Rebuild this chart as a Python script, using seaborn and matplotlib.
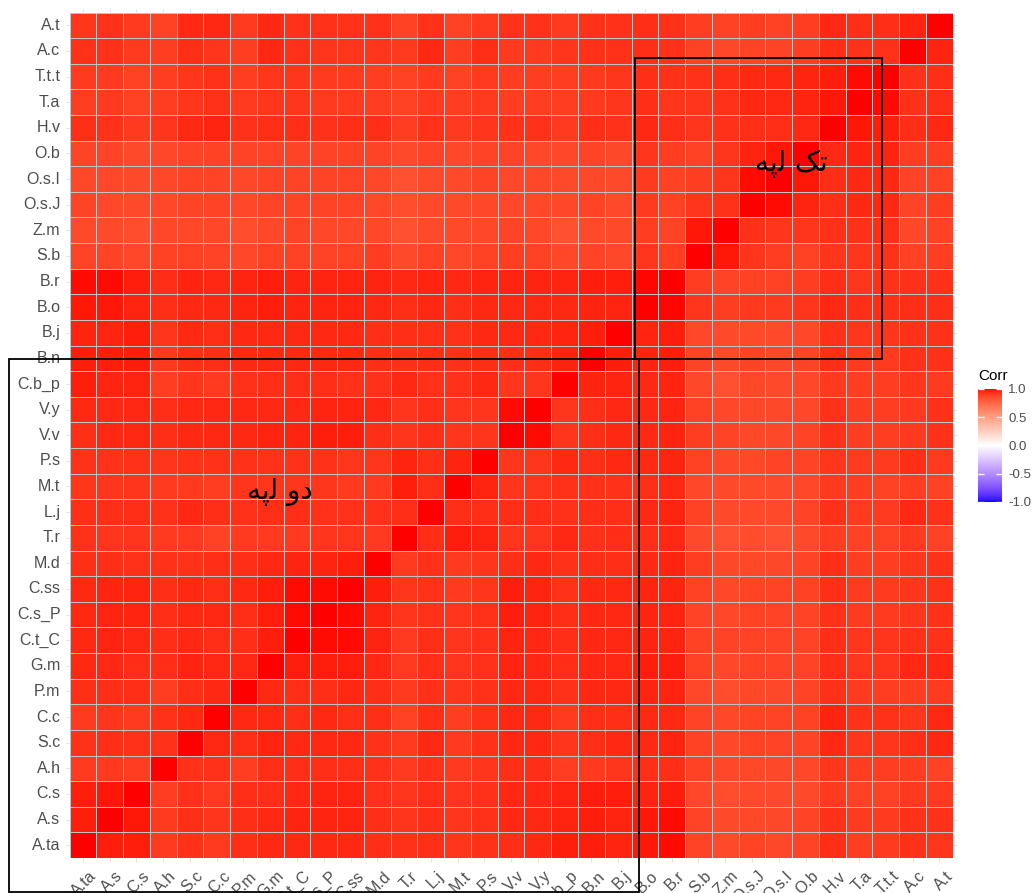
import numpy as np
import pandas as pd
import matplotlib
matplotlib.use("Agg")
import matplotlib.pyplot as plt
import matplotlib.transforms as mtransforms
import seaborn as sns
from matplotlib.colors import ListedColormap
from matplotlib.patches import Rectangle

# ---------------- data (lower triangle, variable order of the x axis) -------------
variables = ["A.ta", "A.s", "C.s", "A.h", "S.c", "C.c", "P.m", "G.m", "C.t_C", "C.s_P",
             "C.ss", "M.d", "T.r", "L.j", "M.t", "P.s", "V.v", "V.y", "C.b_p", "B.n",
             "B.j", "B.o", "B.r", "S.b", "Z.m", "O.s.J", "O.s.I", "O.b", "H.v", "T.a",
             "T.t.t", "A.c", "A.t"]

r_A_ta = [1.0]
r_A_s = [0.97, 1.0]
r_C_s = [0.97, 0.98, 1.0]
r_A_h = [0.91, 0.91, 0.90, 1.0]
r_S_c = [0.93, 0.94, 0.93, 0.93, 1.0]
r_C_c = [0.91, 0.92, 0.91, 0.93, 0.95, 1.0]
r_P_m = [0.94, 0.94, 0.94, 0.90, 0.94, 0.95, 1.0]
r_G_m = [0.95, 0.95, 0.94, 0.94, 0.96, 0.95, 0.95, 1.0]
r_C_t_C = [0.95, 0.96, 0.95, 0.94, 0.95, 0.94, 0.94, 0.97, 1.0]
r_C_s_P = [0.95, 0.96, 0.96, 0.94, 0.95, 0.95, 0.94, 0.97, 0.99, 1.0]
r_C_ss = [0.95, 0.96, 0.96, 0.94, 0.95, 0.94, 0.95, 0.97, 0.99, 0.99, 1.0]
r_M_d = [0.94, 0.94, 0.93, 0.93, 0.93, 0.94, 0.94, 0.95, 0.96, 0.96, 0.97, 1.0]
r_T_r = [0.93, 0.92, 0.92, 0.91, 0.91, 0.89, 0.91, 0.91, 0.91, 0.92, 0.92, 0.91, 1.0]
r_L_j = [0.94, 0.94, 0.94, 0.93, 0.95, 0.94, 0.93, 0.94, 0.94, 0.93, 0.93, 0.93, 0.94, 1.0]
r_M_t = [0.92, 0.92, 0.92, 0.91, 0.91, 0.90, 0.92, 0.92, 0.92, 0.92, 0.91, 0.91, 0.97, 0.94,
         1.0]
r_P_s = [0.93, 0.93, 0.93, 0.92, 0.93, 0.93, 0.93, 0.93, 0.93, 0.93, 0.92, 0.92, 0.96, 0.94,
         0.96, 1.0]
r_V_v = [0.94, 0.95, 0.95, 0.94, 0.95, 0.95, 0.95, 0.96, 0.96, 0.97, 0.97, 0.94, 0.92, 0.94,
         0.92, 0.92, 1.0]
r_V_y = [0.95, 0.95, 0.95, 0.94, 0.95, 0.95, 0.95, 0.95, 0.95, 0.96, 0.96, 0.95, 0.92, 0.94,
         0.92, 0.92, 0.99, 1.0]
r_C_b_p = [0.97, 0.96, 0.96, 0.90, 0.92, 0.91, 0.93, 0.94, 0.94, 0.94, 0.93, 0.93, 0.95, 0.93,
           0.93, 0.95, 0.92, 0.92, 1.0]
r_B_n = [0.97, 0.97, 0.97, 0.91, 0.94, 0.94, 0.95, 0.95, 0.95, 0.95, 0.95, 0.94, 0.93, 0.94,
         0.93, 0.94, 0.94, 0.94, 0.96, 1.0]
r_B_j = [0.96, 0.96, 0.97, 0.92, 0.95, 0.94, 0.95, 0.95, 0.95, 0.95, 0.95, 0.94, 0.94, 0.94,
         0.93, 0.95, 0.95, 0.95, 0.96, 0.97, 1.0]
r_B_o = [0.98, 0.98, 0.96, 0.94, 0.95, 0.95, 0.96, 0.97, 0.96, 0.96, 0.96, 0.95, 0.94, 0.95,
         0.94, 0.95, 0.95, 0.95, 0.95, 0.96, 0.96, 1.0]
r_B_r = [0.99, 0.99, 0.97, 0.94, 0.96, 0.95, 0.96, 0.97, 0.96, 0.96, 0.96, 0.96, 0.95, 0.96,
         0.95, 0.96, 0.96, 0.96, 0.96, 0.97, 0.97, 0.995, 1.0]
r_S_b = [0.88, 0.88, 0.87, 0.89, 0.89, 0.88, 0.87, 0.89, 0.89, 0.88, 0.89, 0.90, 0.86, 0.89,
         0.87, 0.89, 0.90, 0.89, 0.87, 0.88, 0.87, 0.92, 0.90, 1.0]
r_Z_m = [0.86, 0.86, 0.85, 0.87, 0.87, 0.87, 0.85, 0.87, 0.88, 0.87, 0.87, 0.87, 0.84, 0.86,
         0.86, 0.87, 0.88, 0.87, 0.84, 0.86, 0.86, 0.90, 0.88, 0.98, 1.0]
r_O_s_J = [0.88, 0.87, 0.86, 0.87, 0.88, 0.88, 0.87, 0.88, 0.88, 0.88, 0.88, 0.87, 0.85, 0.86,
           0.86, 0.87, 0.87, 0.87, 0.87, 0.88, 0.86, 0.91, 0.89, 0.92, 0.93, 1.0]
r_O_s_I = [0.87, 0.87, 0.86, 0.87, 0.88, 0.88, 0.87, 0.88, 0.88, 0.88, 0.88, 0.87, 0.84, 0.86,
           0.86, 0.88, 0.87, 0.87, 0.86, 0.87, 0.86, 0.91, 0.89, 0.90, 0.92, 0.99, 1.0]
r_O_b = [0.88, 0.88, 0.86, 0.87, 0.88, 0.89, 0.88, 0.88, 0.88, 0.88, 0.89, 0.88, 0.86, 0.88,
         0.87, 0.88, 0.88, 0.87, 0.87, 0.88, 0.87, 0.92, 0.90, 0.89, 0.92, 0.96, 0.98, 1.0]
r_H_v = [0.94, 0.93, 0.91, 0.92, 0.95, 0.96, 0.93, 0.94, 0.94, 0.93, 0.94, 0.94, 0.90, 0.93,
         0.91, 0.92, 0.93, 0.93, 0.91, 0.94, 0.93, 0.95, 0.94, 0.92, 0.93, 0.94, 0.94, 0.95, 1.0]
r_T_a = [0.90, 0.91, 0.89, 0.90, 0.92, 0.93, 0.91, 0.92, 0.92, 0.91, 0.91, 0.90, 0.89, 0.91,
         0.90, 0.91, 0.90, 0.90, 0.90, 0.91, 0.92, 0.94, 0.92, 0.92, 0.93, 0.95, 0.95, 0.96,
         0.98, 1.0]
r_T_t_t = [0.91, 0.91, 0.89, 0.90, 0.92, 0.93, 0.90, 0.92, 0.92, 0.91, 0.91, 0.90, 0.89, 0.91,
           0.89, 0.91, 0.90, 0.90, 0.90, 0.91, 0.92, 0.94, 0.93, 0.93, 0.94, 0.95, 0.95, 0.96,
           0.97, 0.99, 1.0]
r_A_c = [0.93, 0.93, 0.91, 0.90, 0.94, 0.92, 0.90, 0.95, 0.93, 0.92, 0.92, 0.92, 0.91, 0.95,
         0.90, 0.94, 0.91, 0.91, 0.92, 0.93, 0.93, 0.94, 0.93, 0.89, 0.87, 0.88, 0.88, 0.90,
         0.94, 0.93, 0.93, 1.0]
r_A_t = [0.92, 0.93, 0.91, 0.89, 0.95, 0.95, 0.91, 0.95, 0.93, 0.93, 0.93, 0.93, 0.89, 0.93,
         0.89, 0.91, 0.93, 0.93, 0.91, 0.93, 0.93, 0.94, 0.93, 0.90, 0.89, 0.90, 0.89, 0.90,
         0.95, 0.94, 0.94, 0.96, 1.0]

rows = [r_A_ta, r_A_s, r_C_s, r_A_h, r_S_c, r_C_c, r_P_m, r_G_m, r_C_t_C, r_C_s_P, r_C_ss,
        r_M_d, r_T_r, r_L_j, r_M_t, r_P_s, r_V_v, r_V_y, r_C_b_p, r_B_n, r_B_j, r_B_o, r_B_r,
        r_S_b, r_Z_m, r_O_s_J, r_O_s_I, r_O_b, r_H_v, r_T_a, r_T_t_t, r_A_c, r_A_t]

n = len(variables)
mat = np.zeros((n, n))
for i, row in enumerate(rows):
    for j, v in enumerate(row):
        mat[i, j] = v
        mat[j, i] = v

# display: rows top->bottom are the variables reversed, columns left->right in order
df = pd.DataFrame(mat[::-1, :], index=variables[::-1], columns=variables)

# ---------------- colour scale: blue-white-red interpolated in CIE Lab ----------
def lab_to_srgb(lab):
    L, a, b = lab[:, 0], lab[:, 1], lab[:, 2]
    fy = (L + 16) / 116
    fx = fy + a / 500
    fz = fy - b / 200
    d = 6 / 29
    finv = lambda t: np.where(t > d, t ** 3, 3 * d * d * (t - 4 / 29))
    X = 0.95047 * finv(fx)
    Y = finv(fy)
    Z = 1.08883 * finv(fz)
    r = 3.2406 * X - 1.5372 * Y - 0.4986 * Z
    g = -0.9689 * X + 1.8758 * Y + 0.0415 * Z
    bb = 0.0557 * X - 0.2040 * Y + 1.0570 * Z
    rgb = np.clip(np.stack([r, g, bb], axis=1), 0, 1)
    return np.where(rgb <= 0.0031308, 12.92 * rgb, 1.055 * rgb ** (1 / 2.4) - 0.055)

lab_blue = np.array([32.30, 79.19, -107.86])
lab_white = np.array([100.0, 0.0, 0.0])
lab_red = np.array([53.24, 80.09, 67.20])
tt = np.linspace(-1, 1, 513)
labs = np.array([lab_white + (t * (lab_red - lab_white) if t >= 0 else -t * (lab_blue - lab_white))
                 for t in tt])
cmap = ListedColormap(lab_to_srgb(labs))

# ---------------- figure -------------------------------------------------------
W, H = 1032, 893
fig = plt.figure(figsize=(W / 100, H / 100), dpi=100, facecolor="white")
x0, x1, y0, y1 = 69.5, 952.7, 12.5, 858.0
ax = fig.add_axes([x0 / W, 1 - y1 / H, (x1 - x0) / W, (y1 - y0) / H])
cax = fig.add_axes([978 / W, 1 - 502 / H, 24 / W, 113 / H])

sns.heatmap(df, ax=ax, cmap=cmap, vmin=-1, vmax=1, linewidths=0.65, linecolor="#C2C2C2",
            cbar_ax=cax, xticklabels=True, yticklabels=True)

label_font = dict(family="Liberation Sans", size=11.5, color="#4D4D4D")
ax.set_xticklabels(variables, rotation=45, ha="right", va="top", rotation_mode="anchor",
                   **label_font)
ax.set_yticklabels(variables[::-1], rotation=0, **label_font)
ax.tick_params(axis="x", length=3, width=0.8, color="#E3E3E3", pad=4.5,
               top=True, labeltop=False)
ax.tick_params(axis="y", length=3, width=0.8, color="#E3E3E3", pad=3.5,
               right=True, labelright=False)
shift = mtransforms.ScaledTranslation(4 / 72, 0, fig.dpi_scale_trans)
for lab in ax.get_xticklabels():
    lab.set_transform(lab.get_transform() + shift)
ax.set_xlabel("")
ax.set_ylabel("")

# colour bar
cbar = ax.collections[0].colorbar
cbar.set_ticks([-1, -0.5, 0, 0.5, 1])
cbar.set_ticklabels(["-1.0", "-0.5", "0.0", "0.5", "1.0"])
cbar.outline.set_visible(False)
cax.tick_params(direction="in", length=4, width=1, color="white", left=True, right=True,
                labelleft=False, labelright=True, pad=4.5, labelsize=9.5, labelcolor="#4D4D4D")
for t in cax.get_yticklabels():
    t.set_family("Liberation Sans")
fig.text(978 / W, 1 - 376 / H, "Corr", ha="left", va="center", family="Liberation Sans",
         fontsize=11, color="black")

# group boxes and labels (positions converted from pixels to cell units)
cw = (x1 - x0) / n
ch = (y1 - y0) / n
def px(x):
    return (x - x0) / cw
def py(y):
    return (y - y0) / ch

ax.add_patch(Rectangle((px(635), py(58.3)), px(882) - px(635), py(359.3) - py(58.3),
                       fill=False, edgecolor="black", linewidth=1.3, clip_on=False, zorder=5))
ax.add_patch(Rectangle((px(9.5), py(359.3)), px(638.7) - px(9.5), py(891.7) - py(359.3),
                       fill=False, edgecolor="black", linewidth=1.3, clip_on=False, zorder=5))

# Persian labels, written with Arabic presentation forms in visual order
mono_label = "\uFEEA\uFB58\uFEDF \uFB8F\uFE97"   # تک لپه
dico_label = "\uFEEA\uFB58\uFEDF \uFEED\uFEA9"   # دو لپه
ax.text(px(791), py(164), mono_label, ha="center", va="center", fontsize=20,
        family="DejaVu Sans", color="black", zorder=6)
ax.text(px(280), py(492), dico_label, ha="center", va="center", fontsize=20,
        family="DejaVu Sans", color="black", zorder=6)

fig.savefig("out.png", dpi=100, facecolor="white")
